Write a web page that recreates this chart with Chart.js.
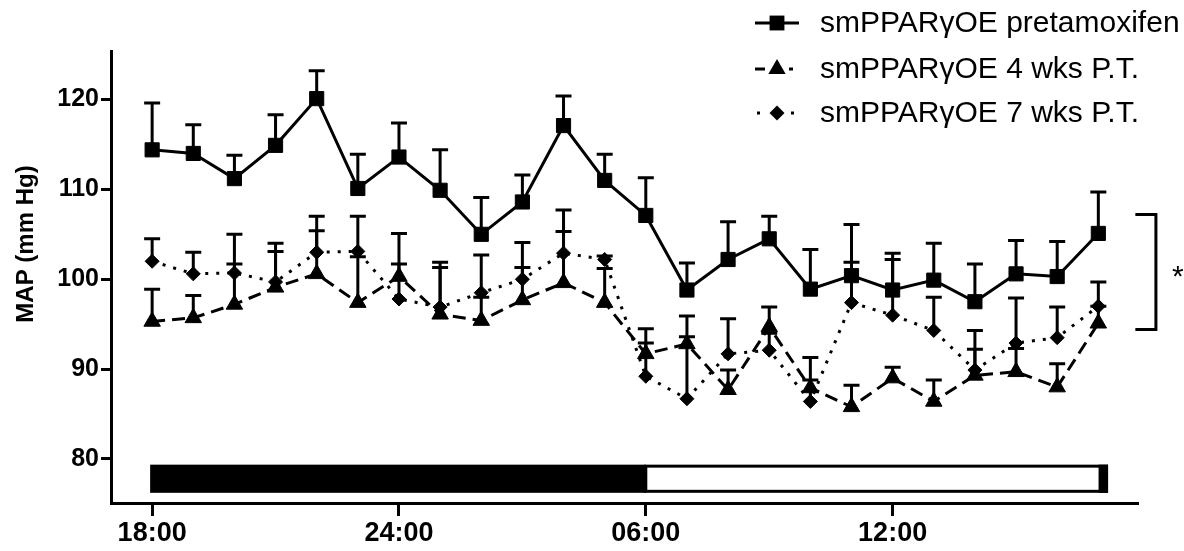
<!DOCTYPE html>
<html><head><meta charset="utf-8">
<script src="https://cdn.jsdelivr.net/npm/chart.js@4.4.0/dist/chart.umd.min.js"></script>
<style>html,body{margin:0;padding:0;background:#fff;}canvas{display:block;}</style>
</head><body>
<canvas id="c" width="1184" height="551"></canvas>
<script>
// ---- data ----
const hours = [0,1,2,3,4,5,6,7,8,9,10,11,12,13,14,15,16,17,18,19,20,21,22,23];
const xTickValues = [0, 6, 12, 18];
const xTickLabels = ['18:00', '24:00', '06:00', '12:00'];
const yTickValues = [80, 90, 100, 110, 120];
const seriesNames = ['smPPARγOE pretamoxifen', 'smPPARγOE 4 wks P.T.', 'smPPARγOE 7 wks P.T.'];
const yAxisTitle = 'MAP (mm Hg)';
const significanceMark = '*';

const preMean = [114.4,114.0,111.2,114.9,120.1,110.1,113.6,109.9,105.0,108.6,117.1,111.0,107.1,98.8,102.2,104.5,98.9,100.4,98.8,99.9,97.5,100.6,100.3,105.1];
const preSem  = [5.2,3.2,2.6,3.4,3.1,3.8,3.8,4.5,4.1,3.0,3.3,2.9,4.2,3.0,4.2,2.5,4.4,5.7,4.1,4.1,4.2,3.7,3.9,4.6];
const wk4Mean = [95.3,95.7,97.2,99.1,100.6,97.4,100.3,96.1,95.4,97.7,99.6,97.4,91.7,92.8,87.7,94.7,87.9,85.8,89.0,86.4,89.3,89.7,88.0,95.1];
const wk4Sem  = [3.6,2.5,4.5,4.0,4.8,5.1,4.8,5.2,2.6,3.6,5.7,3.8,2.8,0.8,2.2,2.2,0.9,2.4,1.2,2.4,2.9,2.6,2.6,1.9];
const wk7Mean = [102.0,100.6,100.7,99.7,103.0,103.1,97.8,96.9,98.5,100.0,102.9,102.2,89.2,86.7,91.7,92.1,86.4,97.4,96.0,94.3,89.9,92.9,93.5,97.0];
const wk7Sem  = [2.5,2.4,4.3,4.3,4.0,3.9,3.9,5.0,4.2,4.1,4.8,0.4,3.7,9.2,3.9,1.9,4.9,4.5,6.2,3.7,4.4,5.0,3.4,2.7];

// light/dark phases (hours after 18:00)
const darkPhase = [0, 12];
const lightPhase = [12, 23.2];

// ---- styles ----
const means = [preMean, wk4Mean, wk7Mean];
const sems = [preSem, wk4Sem, wk7Sem];
const pointStyles = ['rect', 'triangle', 'rectRot'];
const pointRadii = [10, 9.5, 7];
const dashes = [[], [13, 7], [3, 8]];
const FONT = "'Liberation Sans', Arial, Helvetica, sans-serif";

const datasets = means.map((m, k) => ({
  label: seriesNames[k],
  data: hours.map((h, i) => ({x: h, y: m[i]})),
  borderColor: '#000',
  backgroundColor: '#000',
  borderWidth: 3,
  borderDash: dashes[k],
  pointStyle: pointStyles[k],
  pointRadius: pointRadii[k],
  pointBorderWidth: 1,
  pointBackgroundColor: '#000',
  pointBorderColor: '#000',
  tension: 0,
  fill: false
}));

function drawMarker(ctx, style, x, y, r) {
  ctx.beginPath();
  if (style === 'rect') {
    const s = Math.SQRT1_2 * r;
    ctx.rect(x - s, y - s, 2 * s, 2 * s);
  } else if (style === 'triangle') {
    let a = 0;
    ctx.moveTo(x + Math.sin(a) * r, y - Math.cos(a) * r);
    a += 2 * Math.PI / 3;
    ctx.lineTo(x + Math.sin(a) * r, y - Math.cos(a) * r);
    a += 2 * Math.PI / 3;
    ctx.lineTo(x + Math.sin(a) * r, y - Math.cos(a) * r);
    ctx.closePath();
  } else {
    ctx.moveTo(x - r, y); ctx.lineTo(x, y - r); ctx.lineTo(x + r, y); ctx.lineTo(x, y + r); ctx.closePath();
  }
  ctx.fill();
}

const errorBarPlugin = {
  id: 'errbars',
  beforeDatasetsDraw(chart) {
    const {ctx, scales: {x, y}} = chart;
    ctx.save();
    ctx.strokeStyle = '#000';
    ctx.lineWidth = 3;
    ctx.setLineDash([]);
    means.forEach((m, k) => {
      sems[k].forEach((e, i) => {
        const px = x.getPixelForValue(hours[i]);
        const y0 = y.getPixelForValue(m[i]);
        const y1 = y.getPixelForValue(m[i] + e);
        ctx.beginPath();
        ctx.moveTo(px, y0); ctx.lineTo(px, y1);
        ctx.moveTo(px - 8, y1); ctx.lineTo(px + 8, y1);
        ctx.stroke();
      });
    });
    ctx.restore();
  }
};

const decorPlugin = {
  id: 'decor',
  afterDraw(chart) {
    const {ctx, scales: {x, y}} = chart;
    ctx.save();
    // light/dark bar
    const top = y.getPixelForValue(79.2), bot = y.getPixelForValue(76.4);
    const dx0 = x.getPixelForValue(darkPhase[0]) - 2, dx1 = x.getPixelForValue(darkPhase[1]);
    ctx.fillStyle = '#000';
    ctx.fillRect(dx0, top - 1.5, dx1 - dx0, bot - top + 3);
    const lx0 = x.getPixelForValue(lightPhase[0]), lx1 = x.getPixelForValue(lightPhase[1]);
    ctx.strokeStyle = '#000'; ctx.lineWidth = 3;
    ctx.strokeRect(lx0, top, lx1 - lx0, bot - top);
    ctx.fillRect(lx1 - 8, top - 1.5, 9.5, bot - top + 3);

    // significance bracket
    const bx = x.getPixelForValue(24.4), ax = x.getPixelForValue(23.9);
    const by0 = y.getPixelForValue(107.2), by1 = y.getPixelForValue(94.4);
    ctx.beginPath();
    ctx.moveTo(ax, by0); ctx.lineTo(bx, by0); ctx.lineTo(bx, by1); ctx.lineTo(ax, by1);
    ctx.stroke();
    ctx.fillStyle = '#000';
    ctx.font = '30px ' + FONT;
    ctx.textAlign = 'left'; ctx.textBaseline = 'middle';
    ctx.fillText(significanceMark, 1172, (by0 + by1) / 2 + 6);

    // y title
    ctx.save();
    ctx.translate(26, 244);
    ctx.rotate(-Math.PI / 2);
    ctx.font = 'bold 24px ' + FONT;
    ctx.textAlign = 'center'; ctx.textBaseline = 'middle';
    ctx.fillText(yAxisTitle, 0, 0);
    ctx.restore();

    // legend
    const rows = [23, 69, 113];
    seriesNames.forEach((name, k) => {
      const ry = rows[k];
      ctx.lineWidth = 3;
      ctx.beginPath();
      if (k === 0) { ctx.moveTo(755, ry); ctx.lineTo(799, ry); }
      else if (k === 1) { ctx.moveTo(755, ry); ctx.lineTo(765, ry); ctx.moveTo(789, ry); ctx.lineTo(793, ry); }
      else { ctx.moveTo(757, ry); ctx.lineTo(760, ry); ctx.moveTo(791, ry); ctx.lineTo(794, ry); }
      ctx.stroke();
      drawMarker(ctx, pointStyles[k], 777, ry, pointRadii[k] + 0.5);
      ctx.font = '30px ' + FONT;
      ctx.textAlign = 'left'; ctx.textBaseline = 'middle';
      ctx.fillText(name, 820, ry + 1);
    });
    ctx.restore();
  }
};

new Chart(document.getElementById('c').getContext('2d'), {
  type: 'line',
  data: {datasets},
  options: {
    responsive: false,
    animation: false,
    devicePixelRatio: 1,
    layout: {padding: {top: 51, right: 47, left: 0, bottom: 0}},
    plugins: {legend: {display: false}, tooltip: {enabled: false}},
    scales: {
      x: {
        type: 'linear', min: -1.0, max: 23.94,
        afterBuildTicks: s => { s.ticks = xTickValues.map(v => ({value: v})); },
        ticks: {
          callback: (v, i) => xTickLabels[i],
          font: {family: FONT, size: 27, weight: 'bold'}, color: '#000',
          padding: 1, maxRotation: 0, autoSkip: false
        },
        grid: {display: true, drawOnChartArea: false, drawTicks: true, tickLength: 13, color: '#000', lineWidth: 3},
        border: {display: true, color: '#000', width: 3},
        afterFit: s => { s.height = 48; }
      },
      y: {
        type: 'linear', min: 75.1, max: 125.4,
        afterBuildTicks: s => { s.ticks = yTickValues.map(v => ({value: v})); },
        ticks: {
          font: {family: FONT, size: 25, weight: 'bold'}, color: '#000', padding: 2
        },
        grid: {display: true, drawOnChartArea: false, drawTicks: true, tickLength: 10, color: '#000', lineWidth: 3},
        border: {display: true, color: '#000', width: 3},
        afterFit: s => { s.width = 111; }
      }
    }
  },
  plugins: [errorBarPlugin, decorPlugin]
});
</script>
</body></html>
